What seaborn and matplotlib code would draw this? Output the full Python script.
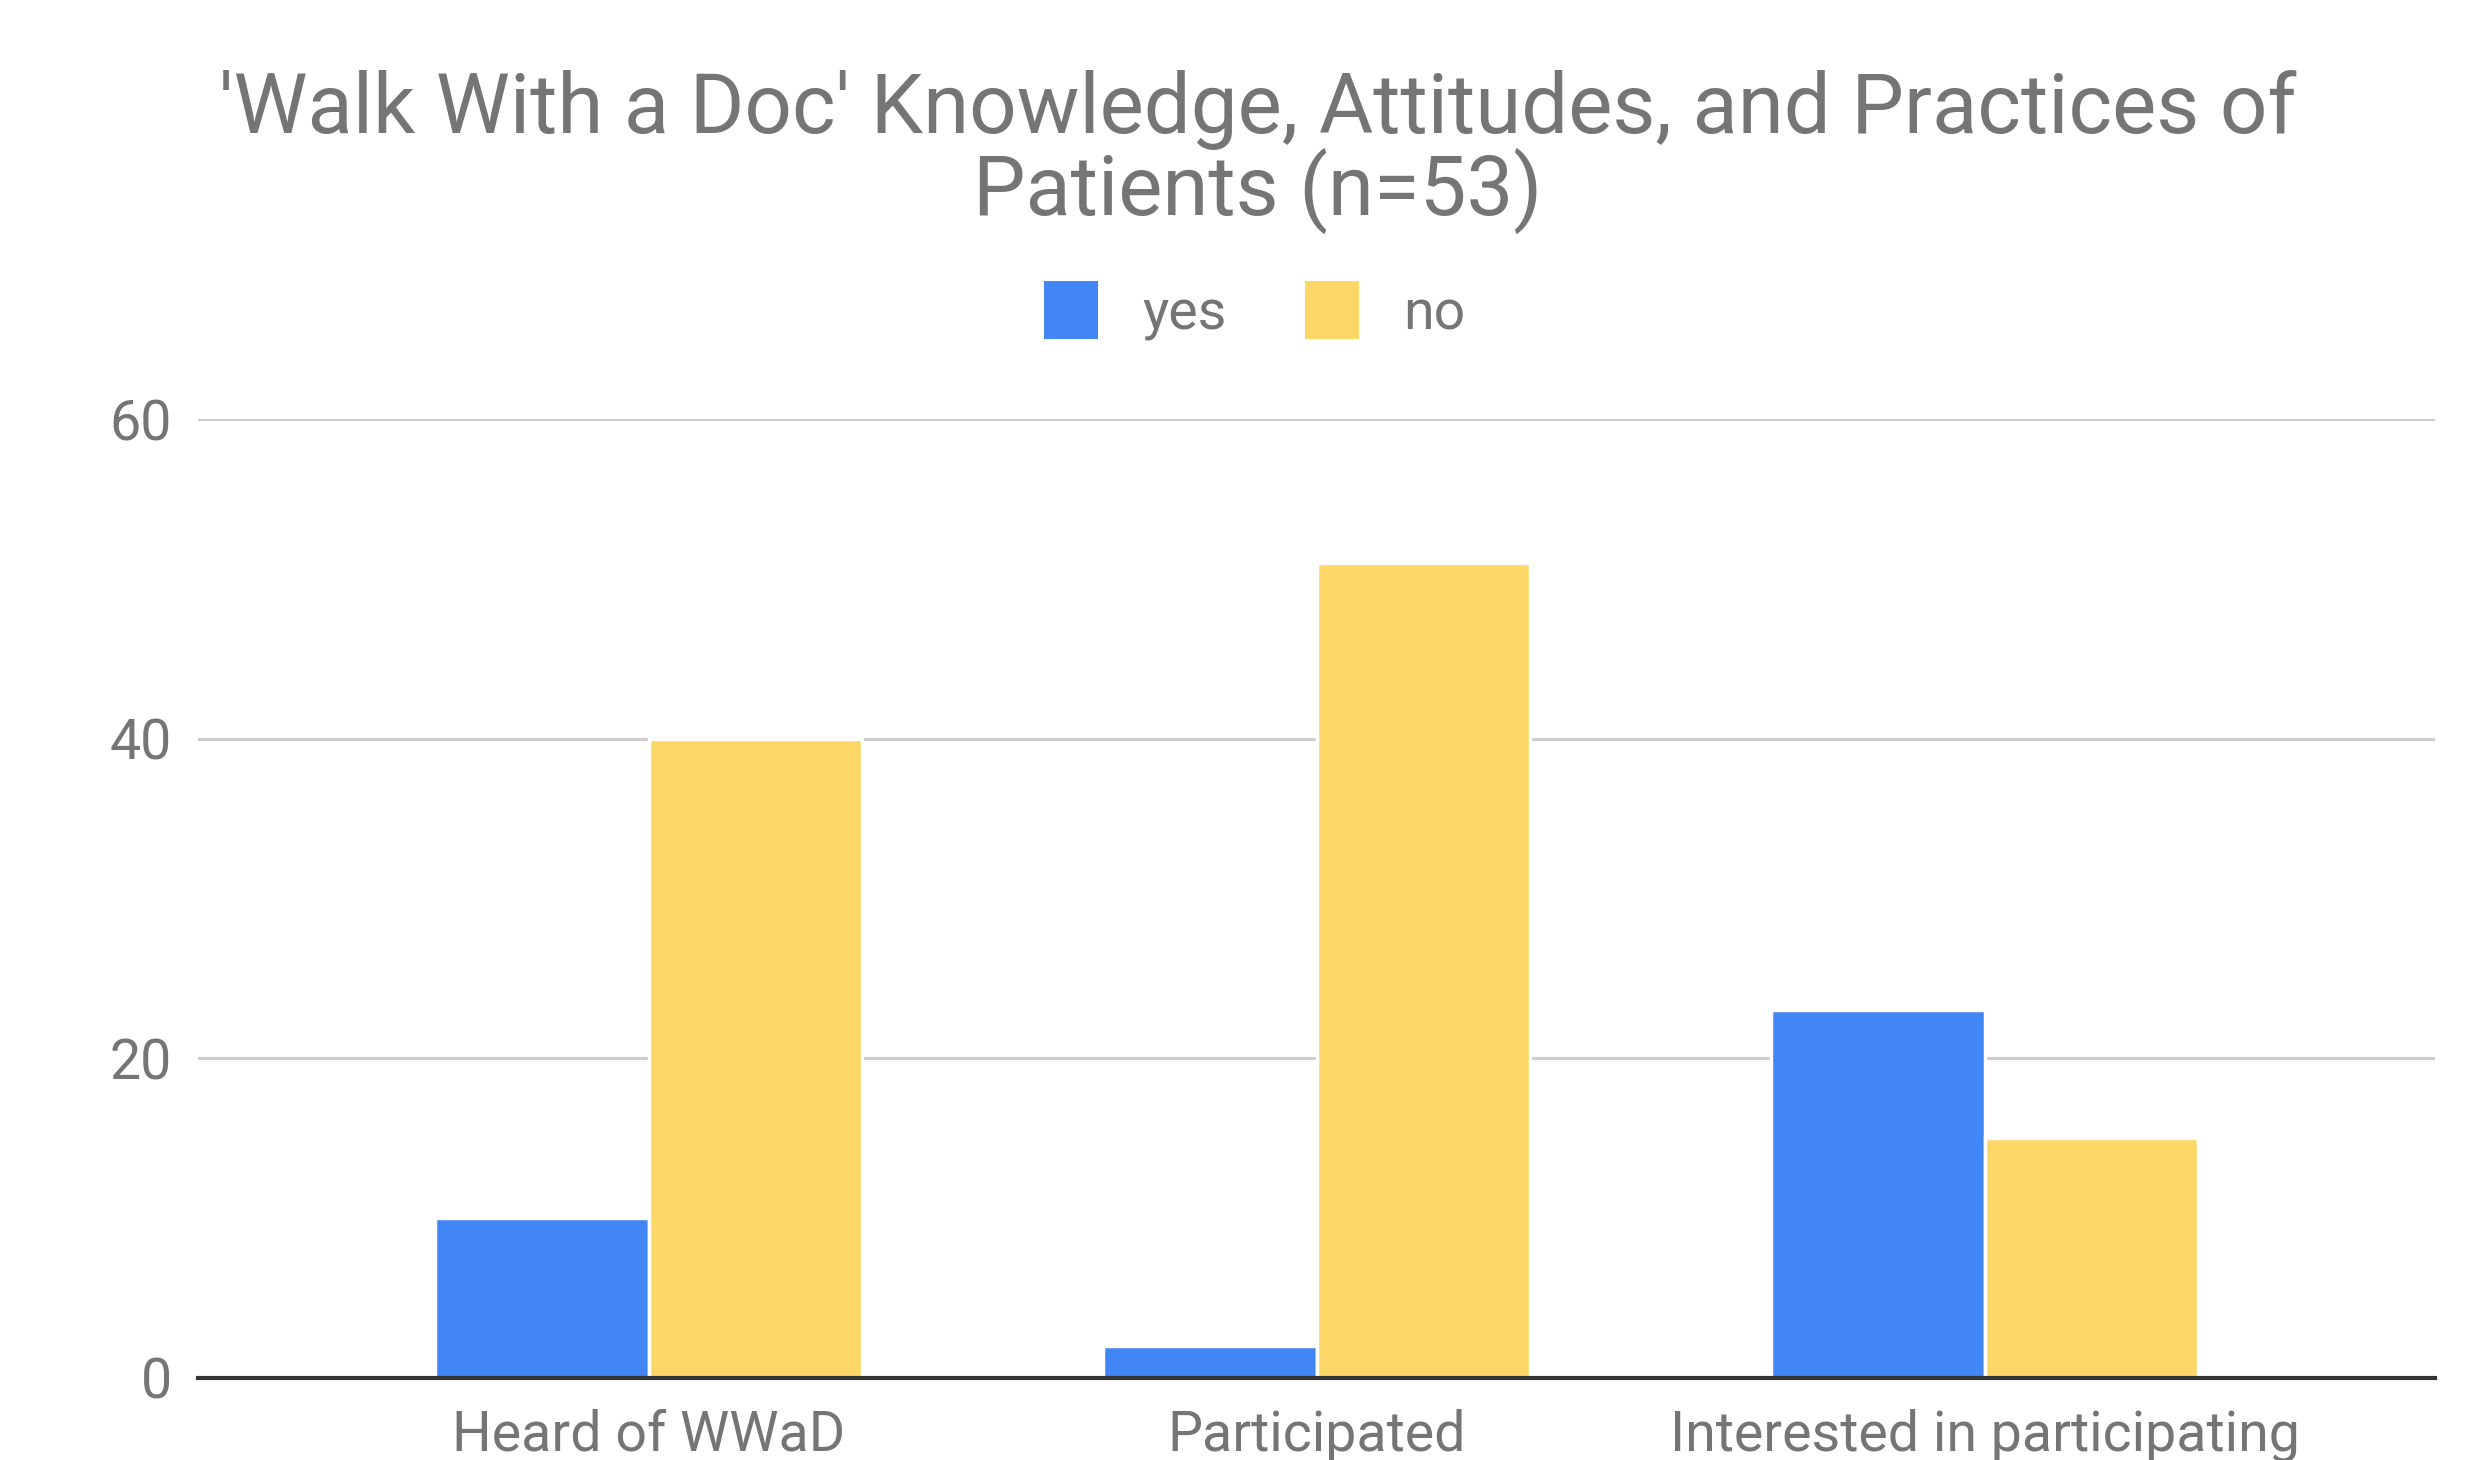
import matplotlib
matplotlib.use("Agg")
import matplotlib.pyplot as plt
import seaborn as sns
import pandas as pd
from matplotlib.patches import Patch

categories = ["Heard of WWaD", "Participated", "Interested in participating"]
yes_values = [10, 2, 23]
no_values = [40, 51, 15]
series = ["yes", "no"]
colors = {"yes": "#4285F4", "no": "#FCD766"}
title = "'Walk With a Doc' Knowledge, Attitudes, and Practices of\nPatients (n=53)"

df = pd.DataFrame({
    "category": categories * 2,
    "answer": ["yes"] * 3 + ["no"] * 3,
    "count": yes_values + no_values,
})

sns.set_theme(style="white")
plt.rcParams["font.family"] = ["Roboto", "DejaVu Sans"]

fig = plt.figure(figsize=(24.8, 14.6), dpi=100)
ax = fig.add_axes([0.0798, 0.0562, 0.9022, 0.6568])

sns.barplot(data=df, x="category", y="count", hue="answer", hue_order=series,
            palette=colors, width=0.64, ax=ax, edgecolor="white", linewidth=2.5,
            saturation=1, legend=False)

ax.set_xlim(-0.675, 2.675)
ax.set_ylim(0, 60)
ax.set_yticks([0, 20, 40, 60])
ax.yaxis.grid(True, color="#CCCCCC", linewidth=2.2)
ax.set_axisbelow(True)
for s in ["top", "right", "left"]:
    ax.spines[s].set_visible(False)
ax.spines["bottom"].set_color("#333333")
ax.spines["bottom"].set_linewidth(3)
ax.spines["bottom"].set_zorder(5)
ax.set_xlabel("")
ax.set_ylabel("")
ax.tick_params(axis="both", length=0, labelsize=40, labelcolor="#757575")
ax.tick_params(axis="y", pad=19)
ax.tick_params(axis="x", pad=22)

fig.text(0.507, 0.896, title, ha="center", va="center", fontsize=60,
         color="#757575", linespacing=0.97)

handles = [Patch(facecolor=colors[s], edgecolor="none", label=s) for s in series]
fig.legend(handles=handles, loc="center", bbox_to_anchor=(0.506, 0.787), ncol=2,
           frameon=False, fontsize=40, labelcolor="#757575", handlelength=0.97,
           handleheight=1.22, handletextpad=0.8, columnspacing=1.4)

fig.savefig("out.png", dpi=100, facecolor="white")
